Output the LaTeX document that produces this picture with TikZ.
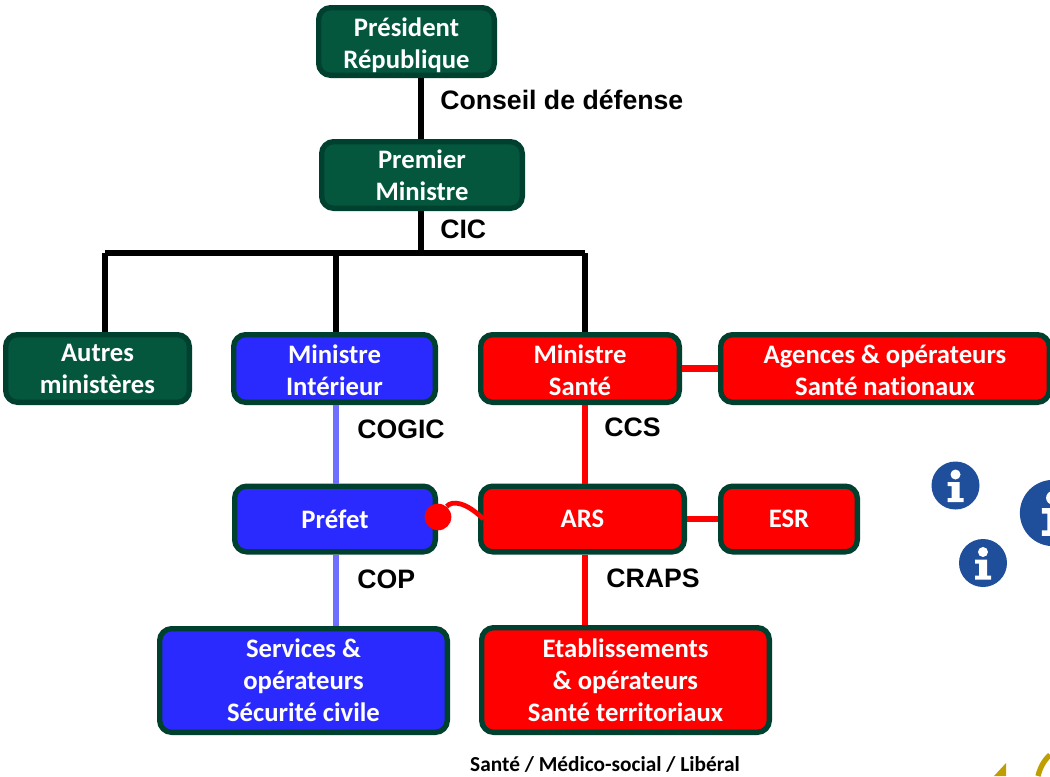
\documentclass[tikz,border=0pt]{standalone}
\usepackage{fontspec}
\setmainfont{Carlito}[Ligatures=CommonOff]
\newfontfamily\labelfont{Liberation Sans}
\definecolor{boxgreen}{HTML}{04573D}
\definecolor{boxedge}{HTML}{00402F}
\definecolor{boxblue}{HTML}{2A2AFF}
\definecolor{lineblue}{HTML}{6F6FFF}
\definecolor{iconblue}{HTML}{1F4E9A}
\definecolor{gold}{HTML}{BF9F00}
\newcommand{\lowertext}[1]{\rule{0pt}{#1}}
\tikzset{
	box/.style={draw=boxedge, line width=4pt, rounded corners=9pt, align=center, text=white, font=\fontsize{20}{24}\selectfont\bfseries, inner sep=0pt},
	size/.style 2 args={minimum width=#1*0.75pt-4pt, minimum height=#2*0.75pt-4pt},
	green/.style={box, fill=boxgreen},
	blue/.style={box, fill=boxblue},
	redbox/.style={box, fill=red},
	lab/.style={anchor=west, inner sep=0pt, font=\labelfont\fontsize{20}{24}\selectfont\bfseries},
	blackline/.style={line width=5.2pt, black},
	blueline/.style={line width=5.2pt, lineblue},
	redline/.style={line width=5.2pt, red},
	infoicon/.pic={
		\fill[iconblue] (0,0) circle (24);
		\fill[white] (0,-11) circle (5);
		\fill[white] (-8,-3.5) -- (4,-3.5) -- (4,12.5) -- (8,12.5) -- (8,16.5) -- (-8,16.5) -- (-8,12.5) -- (-4,12.5) -- (-4,0.5) -- (-8,0.5) -- cycle;
	},
}
\begin{document}
\begin{tikzpicture}[x=0.75pt, y=-0.75pt]
\useasboundingbox (0,0) rectangle (1050,776);

\node[green, size={181}{73}] (n01) at (406.5, 41.5) {\lowertext{19pt}Président\\République};
\node[green, size={206}{72}] (n11) at (422, 175) {Premier\\Ministre};

\node[green, size={189}{73}] (n21) at (97.5, 368.5) {Autres\\ministères};
\node[blue, size={207}{73}] (n22) at (334.5, 368.5) {\lowertext{17pt}Ministre\\Intérieur};
\node[redbox, size={204}{73}] (n23) at (580, 368.5) {\lowertext{17pt}Ministre\\Santé};
\node[redbox, size={334}{73}] (n24) at (885, 368.5) {\lowertext{16pt}Agences \& opérateurs\\Santé nationaux};

\node[blue, size={206}{71}] (n31) at (335, 519) {Préfet};
\node[redbox, size={209}{71}] (n32) at (582.5, 519) {ARS};
\node[redbox, size={142}{71}] (n33) at (789, 519) {ESR};

\node[blue, size={293}{109}] (n41) at (303.5, 680.5) {Services \&\\opérateurs\\Sécurité civile};
\node[redbox, size={293}{110}] (n42) at (625.5, 680) {Etablissements\\\& opérateurs\\Santé territoriaux};

\node[lab] (l1) at (440, 100) {Conseil de défense};
\node[lab] (l2) at (440, 229) {CIC};
\node[lab] (l3) at (357, 429) {COGIC};
\node[lab] (l4) at (604, 427) {CCS};
\node[lab] (l5) at (357, 579) {COP};
\node[lab] (l6) at (606, 578) {CRAPS};
\node[inner sep=0pt, font=\fontsize{16}{18}\selectfont\bfseries] (l7) at (605, 764) {Santé / Médico-social / Libéral};

\coordinate (b1) at (421, 253);
\coordinate (b2) at (105, 253);
\coordinate (b3) at (336, 253);
\coordinate (b4) at (585, 253);
\coordinate (t1) at (421, 78);
\coordinate (t2) at (421, 139);
\coordinate (t3) at (421, 211);

\draw[blackline] (t1) -- (t2);
\draw[blackline] (t3) -- (b1);
\draw[blackline, line cap=square] (b2) -- (b4);
\draw[blackline] (b2) -- (b2 |- n21.north);
\draw[blackline] (b3) -- (b3 |- n22.north);
\draw[blackline] (b4) -- (b4 |- n23.north);

\draw[blueline] (b3 |- n22.south) -- (b3 |- n31.north);
\draw[blueline] (b3 |- n31.south) -- (b3 |- n41.north);

\draw[redline] (n23.east) -- (n24.west);
\draw[redline] (n23.south -| b4) -- (n32.north -| b4);
\draw[redline] (n32.east) -- (n33.west);
\draw[redline] (n32.south -| b4) -- (n42.north -| b4);

\node[circle, fill=red, minimum size=20pt, inner sep=0pt] (c1) at (438, 517) {};
\draw[red, line width=3.6pt] (c1) .. controls (452, 500) and (466, 502) .. ([xshift=4pt]n32.west);

\pic at (955.5, 485.5) {infoicon};
\pic at (983, 563) {infoicon};
\pic[scale=1.38] at (1053, 513) {infoicon};

\fill[gold] (1006, 763) -- (1006, 776) -- (994, 776) -- cycle;
\draw[gold, line width=4pt] (1038, 776) .. controls (1040, 768) and (1044, 760) .. (1050, 755);
\end{tikzpicture}
\end{document}
